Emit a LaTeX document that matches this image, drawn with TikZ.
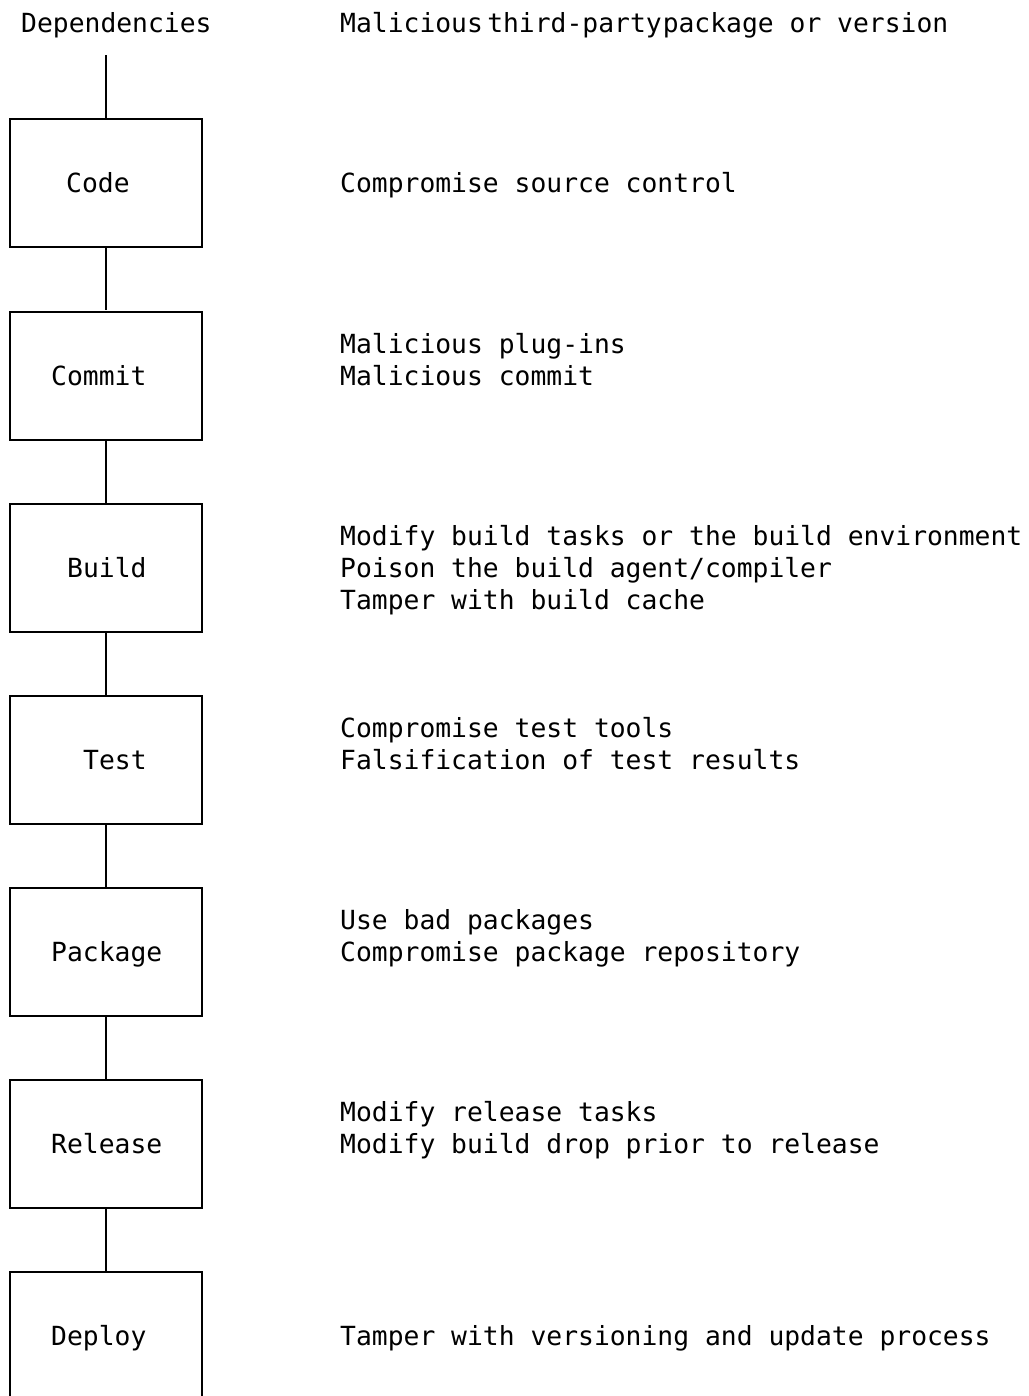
\documentclass[tikz,border=0pt]{standalone}
\usepackage{fontspec}
\setmainfont{DejaVu Sans Mono}
\begin{document}
\begin{tikzpicture}[x=1pt,y=-1pt,
  every node/.style={font=\fontsize{26.35}{32}\selectfont},
  stage/.style={draw,line width=2pt,minimum width=192pt,minimum height=128pt,inner sep=0pt},
  txt/.style={anchor=base west,inner sep=0pt},
  link/.style={line width=2pt}]
\useasboundingbox (0,0) rectangle (1028,1396);
\clip (0,0) rectangle (1028,1396);
% stage boxes
\node[stage] (code)    at (106,183.5) {};
\node[stage] (commit)  at (106,375.5) {};
\node[stage] (build)   at (106,567.5) {};
\node[stage] (test)    at (106,759.5) {};
\node[stage] (package) at (106,951.5) {};
\node[stage] (release) at (106,1143.5) {};
\node[stage] (deploy)  at (106,1335.5) {};
% connectors
\coordinate (dep) at (106,55.5);
\draw[link] (dep) -- (code.north);
\draw[link] (code.south) -- (commit.north);
\draw[link] (commit.south) -- (build.north);
\draw[link] (build.south) -- (test.north);
\draw[link] (test.south) -- (package.north);
\draw[link] (package.south) -- (release.north);
\draw[link] (release.south) -- (deploy.north);
% stage labels
\node[txt] (ldep)  at (21,33) {Dependencies};
\node[txt] (lcode) at (66,193) {Code};
\node[txt] (lcom)  at (51,385) {Commit};
\node[txt] (lbld)  at (67,577) {Build};
\node[txt] (ltst)  at (83,769) {Test};
\node[txt] (lpkg)  at (51,961) {Package};
\node[txt] (lrel)  at (51,1153) {Release};
\node[txt] (ldpl)  at (51,1345) {Deploy};
% threats
\node[txt] (t0)  at (340,33) {Malicious\hspace{4.3pt}third-party\hspace{1pt}package or version};
\node[txt] (t5)  at (340,193) {Compromise source control};
\node[txt] (t10) at (340,353) {Malicious plug-ins};
\node[txt] (t11) at (340,385) {Malicious commit};
\node[txt] (t16) at (340,545) {Modify build tasks or the build environment};
\node[txt] (t17) at (340,577) {Poison the build agent/compiler};
\node[txt] (t18) at (340,609) {Tamper with build cache};
\node[txt] (t22) at (340,737) {Compromise test tools};
\node[txt] (t23) at (340,769) {Falsification of test results};
\node[txt] (t28) at (340,929) {Use bad packages};
\node[txt] (t29) at (340,961) {Compromise package repository};
\node[txt] (t34) at (340,1121) {Modify release tasks};
\node[txt] (t35) at (340,1153) {Modify build drop prior to release};
\node[txt] (t41) at (340,1345) {Tamper with versioning and update process};
\end{tikzpicture}
\end{document}
